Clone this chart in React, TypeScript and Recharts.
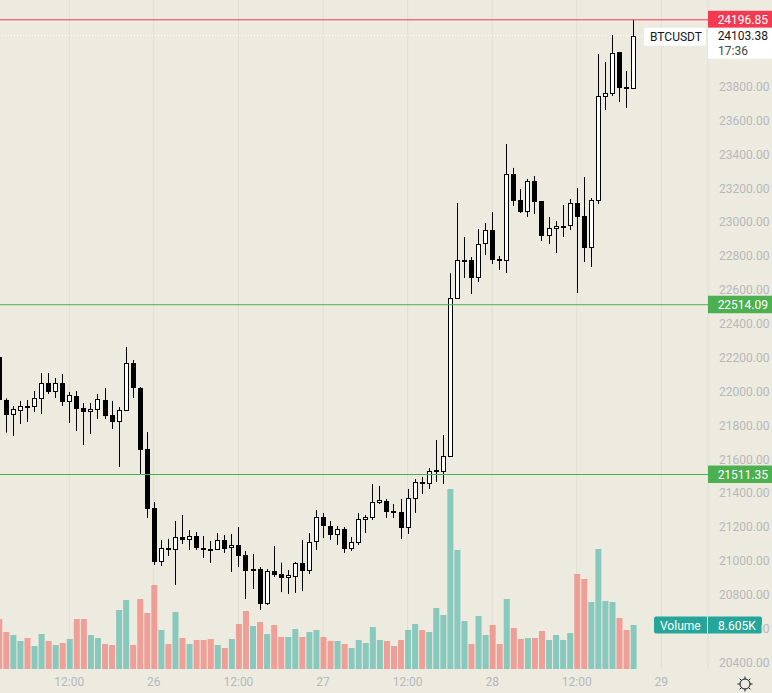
import { Bar, CartesianGrid, Cell, ComposedChart, ReferenceLine, XAxis, YAxis } from 'recharts';

const opens = [
  22207, 21951, 21865, 21888, 21916, 21912, 21959, 22052, 22001, 22052, 21942, 21975, 21902, 21883, 21894, 21951,
  21863, 21824, 21888, 22170, 22022, 21662, 21314, 20997, 21075, 21068, 21142, 21127, 21148, 21077, 21069, 21068,
  21125, 21079, 21095, 21036, 20941, 20953, 20747, 20941, 20924, 20902, 20908, 20989, 20941, 21115, 21260, 21207,
  21154, 21190, 21071, 21107, 21245, 21255, 21345, 21355, 21294, 21290, 21197, 21369, 21467, 21457, 21526, 21528,
  21617, 22550, 22774, 22778, 22674, 22875, 22955, 22784, 22774, 23286, 23133, 23064, 23245, 23127, 22922, 22963,
  22973, 22979, 23115, 23038, 22851, 23129, 23743, 23761, 24005, 23798, 23790,
];
const highs = [
  22207, 21961, 21916, 21946, 21951, 22005, 22111, 22111, 22081, 22105, 21999, 22005, 21934, 21934, 21987, 22022,
  21946, 21910, 22265, 22188, 22028, 21762, 21349, 21125, 21131, 21237, 21272, 21184, 21172, 21148, 21119, 21166,
  21154, 21160, 21201, 21060, 21042, 20965, 20953, 21089, 20991, 20947, 20995, 21125, 21166, 21302, 21284, 21237,
  21207, 21201, 21142, 21284, 21272, 21455, 21444, 21367, 21337, 21367, 21426, 21485, 21497, 21550, 21715, 21745,
  22700, 23115, 22914, 22796, 22961, 22997, 23062, 22802, 23463, 23322, 23198, 23257, 23274, 23127, 23032, 23009,
  23103, 23139, 23203, 23268, 23144, 23995, 23948, 24107, 24007, 23895, 24196.85,
];
const lows = [
  21951, 21759, 21739, 21810, 21822, 21881, 21869, 21987, 21963, 21916, 21816, 21768, 21686, 21751, 21839, 21839,
  21780, 21556, 21888, 21963, 21514, 21255, 20977, 20971, 21030, 20859, 21101, 21066, 21066, 21018, 20989, 21066,
  21048, 20936, 20965, 20776, 20835, 20711, 20741, 20906, 20817, 20806, 20812, 20823, 20924, 21066, 21136, 21125,
  21095, 21048, 21060, 21095, 21166, 21243, 21337, 21255, 21255, 21130, 21160, 21284, 21396, 21426, 21467, 21455,
  21617, 22550, 22672, 22577, 22648, 22808, 22755, 22719, 22701, 23097, 23056, 23032, 23050, 22890, 22873, 22820,
  22914, 22955, 22583, 22766, 22737, 23109, 23664, 23747, 23711, 23676, 23790,
];
const closes = [
  21951, 21865, 21896, 21914, 21912, 21961, 22050, 22001, 22050, 21942, 21979, 21898, 21881, 21896, 21955, 21857,
  21822, 21890, 22168, 22022, 21656, 21308, 20995, 21075, 21071, 21140, 21125, 21146, 21077, 21066, 21060, 21123,
  21071, 21093, 21030, 20941, 20953, 20747, 20941, 20918, 20900, 20916, 20987, 20941, 21111, 21258, 21207, 21154,
  21188, 21071, 21111, 21247, 21258, 21347, 21359, 21290, 21286, 21195, 21371, 21465, 21457, 21530, 21538, 21619,
  22552, 22776, 22778, 22672, 22871, 22953, 22778, 22774, 23284, 23127, 23062, 23245, 23121, 22920, 22965, 22977,
  22979, 23113, 23032, 22849, 23131, 23745, 23763, 23999, 23794, 23790, 24103.38,
];
const volumes = [
  9.78, 7.24, 6.65, 5.48, 6.06, 4.5, 6.85, 5.48, 4.69, 5.09, 5.87, 9.78, 9.78, 6.65, 6.06, 4.89,
  4.69, 11.54, 13.5, 4.69, 13.69, 10.95, 16.43, 7.63, 4.89, 11.15, 6.06, 4.89, 5.67, 5.67, 5.87, 4.69,
  4.11, 5.87, 8.8, 11.34, 8.41, 9.19, 6.85, 8.61, 6.26, 6.26, 7.82, 6.26, 7.24, 7.63, 6.26, 5.48,
  5.48, 4.89, 4.11, 5.67, 5.09, 8.21, 5.67, 5.48, 4.5, 5.67, 7.63, 8.8, 7.63, 7.24, 11.93, 10.56,
  35.21, 23.28, 9.39, 4.89, 10.37, 6.65, 8.61, 4.89, 13.69, 8.02, 5.87, 6.06, 6.06, 7.43, 5.67, 6.65,
  5.67, 7.04, 18.58, 17.6, 13.11, 23.47, 13.3, 13.11, 9.98, 7.63, 8.605,
];

const timeTicks = [10, 22, 34, 46, 58, 70, 82, 94];
const timeLabels = ['12:00', '26', '12:00', '27', '12:00', '28', '12:00', '29'];
// 24000 and 24200 sit behind the price tags, so they are left out
const priceTicks = [
  20400, 20600, 20800, 21000, 21200, 21400, 21600, 21800, 22000, 22200, 22400, 22600, 22800, 23000, 23200, 23400,
  23600, 23800,
];

const highLevel = 24196.85;
const lowLevels = [22514.09, 21511.35];
const lastPrice = 24103.38;
const lastVolume = 8.605;

const data = opens.map((open, i) => ({
  i,
  open,
  high: highs[i],
  low: lows[i],
  close: closes[i],
  volume: volumes[i],
}));

const BG = '#edebdf';
const FONT = 'Roboto, sans-serif';
const TICK = '#b7b7bd';
const RED = '#f33a50';
const GREEN = '#4caf50';
const UP_VOL = 'rgba(38, 166, 154, 0.5)';
const DOWN_VOL = 'rgba(239, 83, 80, 0.5)';
const X_DOMAIN = [-1.107, 100.62];

function Candle(props: any) {
  const { x, y, width, height, payload } = props;
  const cx = Math.floor(x + width / 2);
  const perPrice = height / (payload.high - payload.low);
  const top = Math.round(y + (payload.high - Math.max(payload.open, payload.close)) * perPrice);
  const bottom = Math.round(y + (payload.high - Math.min(payload.open, payload.close)) * perPrice);
  const bodyH = Math.max(bottom - top, 2);
  return (
    <g>
      <rect x={cx} y={y} width={1} height={height} fill="#000" />
      <rect x={cx - 2} y={top} width={5} height={bodyH} fill="#000" />
      {payload.close >= payload.open && bodyH > 2 && (
        <rect x={cx - 1} y={top + 1} width={3} height={bodyH - 2} fill="#fff" />
      )}
    </g>
  );
}

// the 20600 label is mostly under the volume badge, only its last digit shows
function PriceTick(props: any) {
  const { x, y, payload } = props;
  const hidden = payload.value === 20600;
  return (
    <g>
      {hidden && (
        <clipPath id="behind-badge">
          <rect x={x + 42} y={y - 10} width={20} height={20} />
        </clipPath>
      )}
      <text
        x={x}
        y={y + 4}
        fill={TICK}
        fontSize={12}
        fontFamily={FONT}
        clipPath={hidden ? 'url(#behind-badge)' : undefined}
      >
        {payload.value.toFixed(2)}
      </text>
    </g>
  );
}

function priceTag(text: string, fill: string) {
  return (props: any) => {
    const { x, y, width } = props.viewBox;
    const left = x + width;
    return (
      <g>
        <rect x={left} y={y - 9} width={64} height={17.5} fill={fill} />
        <text x={left + 60} y={y + 4.5} textAnchor="end" fill="#fff" fontSize={12} fontFamily={FONT}>
          {text}
        </text>
      </g>
    );
  };
}

function lastPriceTag(props: any) {
  const { x, y, width } = props.viewBox;
  const left = x + width;
  return (
    <g>
      <rect x={left - 64} y={y - 8} width={62} height={18} rx={2} fill="#fff" />
      <text x={left - 58} y={y + 5} fill="#131722" fontSize={12} fontFamily={FONT}>
        BTCUSDT
      </text>
      <rect x={left} y={y - 8} width={64} height={31} fill="#fff" />
      <text x={left + 60} y={y + 4.5} textAnchor="end" fill="#131722" fontSize={12} fontFamily={FONT}>
        24103.38
      </text>
      <text x={left + 10} y={y + 19} fill="#444" fontSize={12} fontFamily={FONT}>
        17:36
      </text>
    </g>
  );
}

function volumeTag(props: any) {
  const { x, y, width } = props.viewBox;
  const right = x + width;
  return (
    <g>
      <rect x={right - 54} y={y - 8.5} width={108} height={17} rx={2} fill="#26a69a" />
      <rect x={right - 1} y={y - 8.5} width={1} height={17} fill="#fff" />
      <text x={right - 48} y={y + 4.5} fill="#fff" fontSize={12} fontFamily={FONT}>
        Volume
      </text>
      <text x={right + 10} y={y + 4.5} fill="#fff" fontSize={12} fontFamily={FONT}>
        8.605K
      </text>
    </g>
  );
}

export default function App() {
  return (
    <div style={{ position: 'absolute', left: 0, top: 0, width: 772, height: 693, overflow: 'hidden', background: BG }}>
      <div style={{ position: 'absolute', left: -9, top: 0 }}>
        <ComposedChart width={781} height={693} data={data} margin={{ top: 0, right: 0, bottom: 0, left: 0 }}>
          <CartesianGrid xAxisId="time" yAxisId="price" vertical horizontal={false} stroke="#e0dfd3" />
          <XAxis
            xAxisId="time"
            dataKey="i"
            type="number"
            domain={X_DOMAIN}
            ticks={timeTicks}
            interval={0}
            height={24}
            tickLine={false}
            axisLine={false}
            tick={{ fill: TICK, fontSize: 12, fontFamily: FONT }}
            tickFormatter={(v: number) => timeLabels[timeTicks.indexOf(v)]}
          />
          <XAxis xAxisId="volumeTime" dataKey="i" type="number" domain={X_DOMAIN} hide height={0} />
          <YAxis
            yAxisId="price"
            orientation="right"
            width={64}
            type="number"
            domain={[20362.7, 24313.8]}
            ticks={priceTicks}
            interval={0}
            tickLine={false}
            axisLine={false}
            tick={PriceTick}
            tickMargin={5}
          />
          <YAxis yAxisId="volume" hide type="number" domain={[0, 130.86]} />
          <Bar xAxisId="volumeTime" yAxisId="volume" dataKey="volume" barSize={6} isAnimationActive={false}>
            {data.map((d) => (
              <Cell key={d.i} fill={d.close >= d.open ? UP_VOL : DOWN_VOL} />
            ))}
          </Bar>
          <Bar
            xAxisId="time"
            yAxisId="price"
            dataKey={(d: any) => [d.low, d.high]}
            barSize={6}
            shape={Candle}
            isAnimationActive={false}
          />
          <ReferenceLine
            xAxisId="time"
            yAxisId="price"
            y={highLevel}
            stroke={RED}
            label={priceTag(highLevel.toFixed(2), RED)}
          />
          {lowLevels.map((level) => (
            <ReferenceLine
              key={level}
              xAxisId="time"
              yAxisId="price"
              y={level}
              stroke={GREEN}
              label={priceTag(level.toFixed(2), GREEN)}
            />
          ))}
          <ReferenceLine
            xAxisId="time"
            yAxisId="price"
            y={lastPrice}
            stroke="#fff"
            strokeDasharray="1 2"
            label={lastPriceTag}
          />
          <ReferenceLine xAxisId="time" yAxisId="volume" y={lastVolume} stroke="none" label={volumeTag} />
        </ComposedChart>
      </div>
      <svg style={{ position: 'absolute', left: 736, top: 675 }} width={18} height={18} viewBox="0 0 18 18">
        <circle cx={9} cy={9} r={5} fill="none" stroke="#131722" strokeWidth={1} />
        <path d="M9 1.5V4M9 14V16.5M1.5 9H4M14 9H16.5M3.7 3.7L5.4 5.4M12.6 12.6L14.3 14.3M3.7 14.3L5.4 12.6M12.6 5.4L14.3 3.7" stroke="#131722" strokeWidth={1} />
      </svg>
    </div>
  );
}
